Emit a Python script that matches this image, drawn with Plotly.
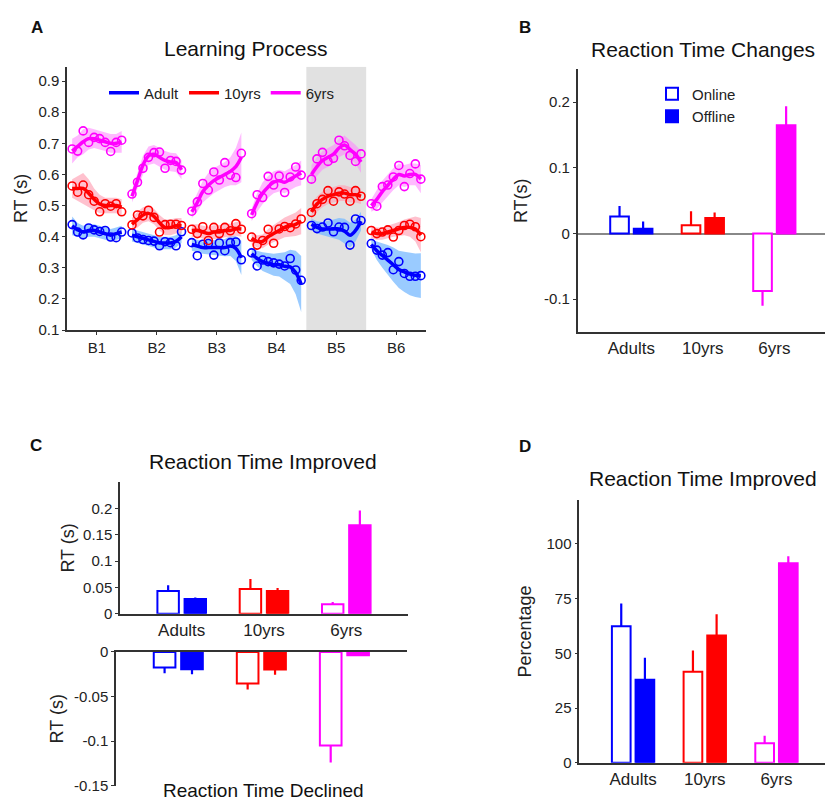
import plotly.graph_objects as go

# ---------------- Panel A data ----------------
blocks = ["B1", "B2", "B3", "B4", "B5", "B6"]
trials = list(range(1, 11))
shaded_block = "B5"

adult_pts = [
    [0.439, 0.415, 0.406, 0.428, 0.422, 0.417, 0.420, 0.399, 0.397, 0.415],
    [0.412, 0.396, 0.391, 0.388, 0.386, 0.371, 0.384, 0.381, 0.371, 0.416],
    [0.381, 0.339, 0.376, 0.378, 0.341, 0.380, 0.355, 0.381, 0.383, 0.326],
    [0.348, 0.306, 0.325, 0.320, 0.316, 0.312, 0.306, 0.330, 0.293, 0.260],
    [0.436, 0.426, 0.431, 0.444, 0.416, 0.431, 0.430, 0.373, 0.457, 0.452],
    [0.378, 0.357, 0.341, 0.349, 0.294, 0.320, 0.282, 0.273, 0.273, 0.275],
]
adult_line = [
    [0.435, 0.422, 0.415, 0.420, 0.420, 0.415, 0.410, 0.405, 0.410, 0.415],
    [0.405, 0.400, 0.395, 0.390, 0.385, 0.380, 0.380, 0.380, 0.385, 0.400],
    [0.375, 0.370, 0.365, 0.365, 0.365, 0.365, 0.365, 0.370, 0.362, 0.332],
    [0.345, 0.330, 0.320, 0.315, 0.310, 0.310, 0.305, 0.303, 0.285, 0.248],
    [0.440, 0.430, 0.425, 0.425, 0.425, 0.425, 0.418, 0.405, 0.420, 0.450],
    [0.375, 0.355, 0.340, 0.325, 0.310, 0.295, 0.287, 0.280, 0.276, 0.275],
]
adult_band = [
    [0.030, 0.022, 0.020, 0.020, 0.020, 0.020, 0.020, 0.020, 0.020, 0.020],
    [0.020, 0.020, 0.020, 0.020, 0.020, 0.020, 0.020, 0.020, 0.020, 0.020],
    [0.020, 0.020, 0.020, 0.022, 0.024, 0.026, 0.028, 0.032, 0.040, 0.055],
    [0.020, 0.025, 0.030, 0.032, 0.035, 0.038, 0.045, 0.055, 0.070, 0.090],
    [0.018, 0.020, 0.022, 0.025, 0.030, 0.035, 0.040, 0.040, 0.035, 0.030],
    [0.015, 0.030, 0.040, 0.048, 0.055, 0.060, 0.065, 0.068, 0.070, 0.072],
]

ten_pts = [
    [0.563, 0.543, 0.566, 0.535, 0.514, 0.480, 0.506, 0.498, 0.506, 0.480],
    [0.438, 0.470, 0.467, 0.485, 0.462, 0.415, 0.439, 0.440, 0.440, 0.436],
    [0.424, 0.410, 0.432, 0.388, 0.430, 0.410, 0.430, 0.419, 0.442, 0.424],
    [0.399, 0.373, 0.388, 0.424, 0.379, 0.425, 0.433, 0.429, 0.441, 0.457],
    [0.478, 0.506, 0.520, 0.548, 0.514, 0.544, 0.537, 0.514, 0.548, 0.530],
    [0.420, 0.410, 0.415, 0.422, 0.399, 0.420, 0.436, 0.440, 0.432, 0.400],
]
ten_line = [
    [0.555, 0.555, 0.555, 0.540, 0.520, 0.505, 0.500, 0.500, 0.500, 0.495],
    [0.440, 0.455, 0.470, 0.475, 0.465, 0.445, 0.430, 0.430, 0.435, 0.435],
    [0.420, 0.420, 0.415, 0.410, 0.415, 0.415, 0.420, 0.420, 0.425, 0.425],
    [0.395, 0.385, 0.385, 0.400, 0.410, 0.420, 0.430, 0.435, 0.440, 0.450],
    [0.480, 0.505, 0.520, 0.530, 0.535, 0.540, 0.540, 0.535, 0.535, 0.530],
    [0.415, 0.410, 0.410, 0.415, 0.420, 0.425, 0.430, 0.430, 0.425, 0.405],
]
ten_band = [
    [0.030, 0.040, 0.050, 0.045, 0.035, 0.030, 0.025, 0.025, 0.025, 0.025],
    [0.020, 0.025, 0.025, 0.025, 0.025, 0.025, 0.025, 0.025, 0.025, 0.025],
    [0.020, 0.020, 0.020, 0.022, 0.022, 0.022, 0.022, 0.022, 0.022, 0.025],
    [0.020, 0.020, 0.022, 0.025, 0.028, 0.030, 0.032, 0.035, 0.038, 0.042],
    [0.025, 0.025, 0.025, 0.025, 0.025, 0.025, 0.025, 0.025, 0.025, 0.025],
    [0.020, 0.020, 0.020, 0.020, 0.020, 0.022, 0.025, 0.030, 0.040, 0.055],
]

six_pts = [
    [0.682, 0.675, 0.740, 0.703, 0.719, 0.715, 0.703, 0.674, 0.703, 0.710],
    [0.537, 0.575, 0.620, 0.655, 0.670, 0.672, 0.620, 0.645, 0.642, 0.614],
    [0.482, 0.512, 0.571, 0.550, 0.608, 0.582, 0.638, 0.598, 0.590, 0.668],
    [0.474, 0.535, 0.526, 0.594, 0.566, 0.595, 0.542, 0.592, 0.624, 0.598],
    [0.585, 0.650, 0.671, 0.642, 0.652, 0.710, 0.692, 0.661, 0.642, 0.666],
    [0.506, 0.498, 0.561, 0.566, 0.592, 0.629, 0.561, 0.603, 0.634, 0.585],
]
six_line = [
    [0.675, 0.690, 0.705, 0.715, 0.715, 0.710, 0.705, 0.700, 0.700, 0.705],
    [0.530, 0.580, 0.630, 0.660, 0.665, 0.655, 0.645, 0.640, 0.638, 0.615],
    [0.480, 0.510, 0.545, 0.565, 0.580, 0.590, 0.600, 0.610, 0.625, 0.655],
    [0.470, 0.510, 0.540, 0.560, 0.575, 0.580, 0.575, 0.585, 0.595, 0.605],
    [0.600, 0.625, 0.645, 0.655, 0.665, 0.685, 0.695, 0.680, 0.665, 0.640],
    [0.500, 0.520, 0.545, 0.565, 0.585, 0.600, 0.595, 0.600, 0.600, 0.585],
]
six_band = [
    [0.040, 0.035, 0.040, 0.035, 0.030, 0.030, 0.030, 0.030, 0.030, 0.035],
    [0.020, 0.025, 0.030, 0.030, 0.030, 0.030, 0.030, 0.030, 0.030, 0.030],
    [0.020, 0.030, 0.035, 0.040, 0.040, 0.040, 0.040, 0.045, 0.060, 0.080],
    [0.020, 0.030, 0.035, 0.035, 0.035, 0.035, 0.035, 0.035, 0.035, 0.040],
    [0.030, 0.030, 0.030, 0.030, 0.030, 0.030, 0.030, 0.030, 0.030, 0.035],
    [0.020, 0.030, 0.035, 0.035, 0.035, 0.035, 0.035, 0.035, 0.035, 0.045],
]

# ---------------- Panels B, C, D data ----------------
groups = ["Adults", "10yrs", "6yrs"]
colors = ["#0000FF", "#FF0000", "#FF00FF"]

b_online = [0.026, 0.0128, -0.0875]
b_online_err = [0.016, 0.021, 0.0225]
b_offline = [0.0074, 0.0236, 0.165]
b_offline_err = [0.011, 0.0084, 0.029]

c_imp_online = [0.043, 0.047, 0.018]
c_imp_online_err = [0.011, 0.019, 0.004]
c_imp_offline = [0.028, 0.043, 0.168]
c_imp_offline_err = [0.003, 0.006, 0.028]

c_dec_online = [-0.0176, -0.0355, -0.105]
c_dec_online_err = [0.0064, 0.0066, 0.019]
c_dec_offline = [-0.0194, -0.0198, -0.0037]
c_dec_offline_err = [0.0056, 0.0058, 0.0]

d_online = [62.4, 41.6, 8.9]
d_online_err = [10.4, 9.7, 3.4]
d_offline = [37.9, 58.2, 91.2]
d_offline_err = [10.1, 9.7, 3.2]

# ---------------- Build figure ----------------
W, H = 825, 808
FONT = "Liberation Sans, Arial, sans-serif"
AX = "#333333"

def px_x(p):
    return p / W

def px_y(p):
    return 1 - p / H

fig = go.Figure()

series_A = [
    ("Adult", "#0000FF", "rgba(120,185,255,0.75)", adult_pts, adult_line, adult_band),
    ("10yrs", "#FF0000", "rgba(255,160,180,0.65)", ten_pts, ten_line, ten_band),
    ("6yrs", "#FF00FF", "rgba(255,130,255,0.55)", six_pts, six_line, six_band),
]

def trial_x(bi, t):
    # block index (1-based) plus within-block position
    return (bi + 1) + (t - 5.5) / 10.0 * 0.92

# bands
for name, col, bcol, pts, line, band in series_A:
    for bi in range(len(blocks)):
        xs = [trial_x(bi, t) for t in trials]
        up = [l + w for l, w in zip(line[bi], band[bi])]
        lo = [l - w for l, w in zip(line[bi], band[bi])]
        fig.add_trace(go.Scatter(
            x=xs + xs[::-1], y=up + lo[::-1], fill="toself", fillcolor=bcol,
            line=dict(width=0), mode="lines", hoverinfo="skip", showlegend=False,
            xaxis="x", yaxis="y"))

# lines and circles
for name, col, bcol, pts, line, band in series_A:
    lx, ly, cx, cy = [], [], [], []
    for bi in range(len(blocks)):
        xs = [trial_x(bi, t) for t in trials]
        lx += xs + [None]
        ly += line[bi] + [None]
        cx += xs
        cy += pts[bi]
    fig.add_trace(go.Scatter(
        x=lx, y=ly, mode="lines", name=name, line=dict(color=col, width=3.5, shape="spline"),
        xaxis="x", yaxis="y", legend="legend", legendgroup="A_" + name))
    fig.add_trace(go.Scatter(
        x=cx, y=cy, mode="markers", showlegend=False,
        marker=dict(symbol="circle-open", size=8, color=col, line=dict(width=1.6, color=col)),
        xaxis="x", yaxis="y"))


def bar_pair_grouped(online, online_err, offline, offline_err, xa, ya, legend=None):
    for kind, vals, errs in (("Online", online, online_err), ("Offline", offline, offline_err)):
        for gi, g in enumerate(groups):
            v, e = vals[gi], errs[gi]
            fill = "white" if kind == "Online" else colors[gi]
            fig.add_trace(go.Bar(
                x=[g], y=[v], name=kind, offsetgroup=kind, legendgroup=kind,
                marker=dict(color=fill, line=dict(color=colors[gi], width=2)),
                error_y=dict(type="data", symmetric=False,
                             array=[e if v >= 0 else 0], arrayminus=[e if v < 0 else 0],
                             width=0, thickness=2.2, color=colors[gi]),
                xaxis=xa, yaxis=ya,
                showlegend=(legend is not None and gi == 0),
                legend=legend if legend else "legend2"))

bar_pair_grouped(b_online, b_online_err, b_offline, b_offline_err, "x2", "y2", legend="legend2")
bar_pair_grouped(c_imp_online, c_imp_online_err, c_imp_offline, c_imp_offline_err, "x3", "y3")
bar_pair_grouped(c_dec_online, c_dec_online_err, c_dec_offline, c_dec_offline_err, "x4", "y4")
bar_pair_grouped(d_online, d_online_err, d_offline, d_offline_err, "x5", "y5")

tickfont = dict(family=FONT, size=15, color="#222")
catfont = dict(family=FONT, size=17, color="#222")
titlefont = dict(family=FONT, size=18, color="#222")

def axis_common(**kw):
    d = dict(showline=True, linecolor=AX, linewidth=1.5, ticks="outside", ticklen=3,
             tickcolor=AX, tickwidth=1.2, showgrid=False, zeroline=False,
             tickfont=tickfont, mirror=False)
    d.update(kw)
    return d

cat_range = [-0.75, -0.75 + (W - 577.7) / 71.5]

fig.update_layout(
    width=W, height=H, margin=dict(l=0, r=0, t=0, b=0),
    paper_bgcolor="white", plot_bgcolor="rgba(0,0,0,0)",
    barmode="group", bargap=0.34, bargroupgap=0.21,
    font=dict(family=FONT, color="#222"),
    xaxis=axis_common(domain=[px_x(67), px_x(426)], range=[0.5, 6.5],
                      tickvals=[1, 2, 3, 4, 5, 6], ticktext=blocks, anchor="y",
                      tickfont=dict(family=FONT, size=15, color="#222")),
    yaxis=axis_common(domain=[px_y(328), px_y(59)], range=[0.1, 0.946],
                      tickvals=[0.1, 0.2, 0.3, 0.4, 0.5, 0.6, 0.7, 0.8, 0.9],
                      ticktext=["0.1", "0.2", "0.3", "0.4", "0.5", "0.6", "0.7", "0.8", "0.9"],
                      anchor="x", title=dict(text="RT (s)", font=titlefont, standoff=6)),
    xaxis2=axis_common(domain=[px_x(577.7), 1.0], range=cat_range, anchor="y2",
                       ticks="", tickfont=catfont, type="category"),
    yaxis2=axis_common(domain=[px_y(330), px_y(61.7)], range=[-0.15, 0.25],
                       tickvals=[-0.1, 0, 0.1, 0.2], ticktext=["-0.1", "0", "0.1", "0.2"],
                       anchor="x2", zeroline=True, zerolinecolor="#888", zerolinewidth=1.5,
                       title=dict(text="RT(s)", font=titlefont, standoff=12)),
    xaxis3=axis_common(domain=[px_x(120), px_x(408)], range=[-0.75, 2.75], anchor="y3",
                       ticks="", tickfont=catfont, type="category"),
    yaxis3=axis_common(domain=[px_y(617.7), px_y(483.3)], range=[0, 0.25],
                       tickvals=[0, 0.05, 0.1, 0.15, 0.2], ticktext=["0", "0.05", "0.1", "0.15", "0.2"],
                       anchor="x3", title=dict(text="RT (s)", font=titlefont, standoff=4)),
    xaxis4=axis_common(domain=[px_x(116), px_x(406.7)], range=[-0.75, 2.75], anchor="y4",
                       ticks="", showticklabels=False, side="top", type="category"),
    yaxis4=axis_common(domain=[px_y(793.3), px_y(656.7)], range=[-0.15, 0],
                       tickvals=[-0.15, -0.1, -0.05, 0], ticktext=["-0.15", "-0.1", "-0.05", "0"],
                       anchor="x4", title=dict(text="RT (s)", font=titlefont, standoff=6)),
    xaxis5=axis_common(domain=[px_x(579.3), 1.0], range=[-0.75, -0.75 + (W - 579.3) / 71.7],
                       anchor="y5", ticks="", tickfont=catfont, type="category"),
    yaxis5=axis_common(domain=[px_y(770), px_y(501.7)], range=[0, 120],
                       tickvals=[0, 25, 50, 75, 100], anchor="x5",
                       title=dict(text="Percentage", font=titlefont, standoff=10)),
    legend=dict(orientation="h", x=px_x(104), y=px_y(69), xanchor="left", yanchor="top",
                bgcolor="rgba(0,0,0,0)", font=dict(family=FONT, size=15, color="#222"),
                traceorder="normal", tracegroupgap=0),
    legend2=dict(orientation="v", x=px_x(652), y=px_y(70), xanchor="left", yanchor="top",
                 bgcolor="rgba(0,0,0,0)", font=dict(family=FONT, size=15, color="#222"),
                 traceorder="normal", tracegroupgap=0),
)

# shaded block in panel A
sb = blocks.index(shaded_block) + 1
fig.add_shape(type="rect", xref="x", yref="y", x0=sb - 0.5, x1=sb + 0.5, y0=0.1, y1=0.946,
              fillcolor="#e1e1e1", line=dict(width=0), layer="below")

anns = [
    ("A", 37, 19, 17, True), ("B", 525, 19, 17, True), ("C", 36, 446, 17, True), ("D", 525, 447, 17, True),
    ("Learning Process", 246, 40, 21, False), ("Reaction Time Changes", 703, 41, 21, False),
    ("Reaction Time Improved", 263, 462, 21, False), ("Reaction Time Improved", 703, 480, 21, False),
    ("Reaction Time Declined", 263, 798, 19, False),
]
for text, x, y, size, bold in anns:
    fig.add_annotation(text=f"<b>{text}</b>" if bold else text, x=px_x(x), y=px_y(y),
                       xref="paper", yref="paper", showarrow=False, xanchor="center", yanchor="middle",
                       font=dict(family=FONT, size=size, color="#111"))

fig.write_html("out.html")
